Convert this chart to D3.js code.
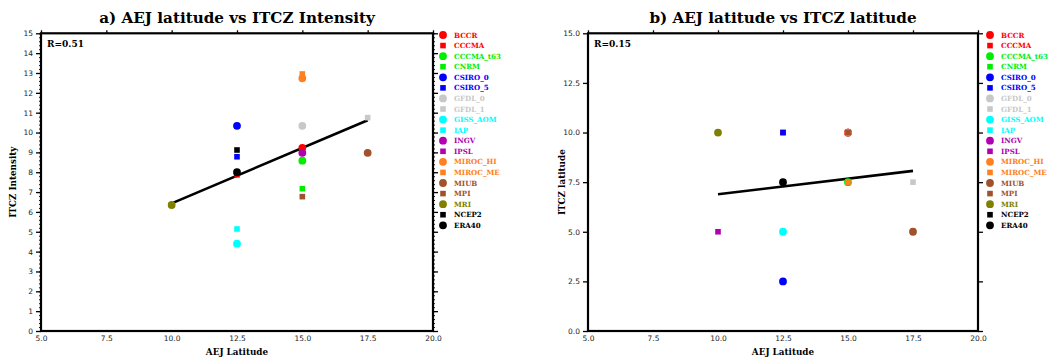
<!DOCTYPE html>
<html>
<head>
<meta charset="utf-8">
<script src="https://cdn.jsdelivr.net/npm/d3@7"></script>
<style>
  html, body { margin: 0; padding: 0; background: #fff; }
  svg { display: block; }
</style>
</head>
<body>
<svg id="chart" width="1053" height="358"></svg>
<script>
// ---------------- data ----------------
const models = ["BCCR","CCCMA","CCCMA_t63","CNRM","CSIRO_0","CSIRO_5","GFDL_0","GFDL_1","GISS_AOM","IAP",
                "INGV","IPSL","MIROC_HI","MIROC_ME","MIUB","MPI","MRI","NCEP2","ERA40"];
const markers = ["circle","square","circle","square","circle","square","circle","square","circle","square",
                 "circle","square","circle","square","circle","square","circle","square","circle"];
const colors = ["#ff0000","#ff0000","#00ee00","#00ee00","#0000ff","#0000ff","#c8c8c8","#c8c8c8","#00ffff","#00ffff",
                "#b000b0","#b000b0","#ff8020","#ff8020","#a0522d","#a0522d","#808000","#000000","#000000"];
const aejLat   = [15, 12.5, 15, 15, 12.5, 12.5, 15, 17.5, 12.5, 12.5, 15, 10, 15, 15, 17.5, 15, 10, 12.5, 12.5];
const itczInt  = [9.23, 7.87, 8.58, 7.17, 10.34, 8.78, 10.34, 10.75, 4.40, 5.14, 8.98, 6.35, 12.73, 12.95, 8.98, 6.77, 6.35, 9.12, 8.0];
const itczLat  = [10, 10, 7.5, 7.5, 2.5, 10, 10, 7.5, 5, 5, 10, 5, 10, 7.5, 5, 10, 10, 7.5, 7.5];
const fitX     = [10, 17.5];
const fitIntY  = [6.43, 10.62];
const fitLatY  = [6.89, 8.07];
const rValues  = ["R=0.51", "R=0.15"];
const titles   = ["a) AEJ latitude vs ITCZ Intensity", "b) AEJ latitude vs ITCZ latitude"];
const yLabels  = ["ITCZ Intensity", "ITCZ latitude"];
const xLabel   = "AEJ Latitude";
const xTicks   = [5, 7.5, 10, 12.5, 15, 17.5, 20];
const yTicksA  = [0,1,2,3,4,5,6,7,8,9,10,11,12,13,14,15];
const yTicksB  = [0, 2.5, 5, 7.5, 10, 12.5, 15];

// ---------------- drawing ----------------
const svg = d3.select("#chart");
const serif = "'DejaVu Serif', serif";
const sans = "'DejaVu Sans', sans-serif";

const panels = [
  {x0: 41, x1: 433, yVals: itczInt, fitY: fitIntY, yTicks: yTicksA, yFmt: d3.format("d"), minor: true,
   legX: 443, title: titles[0], ylab: yLabels[0], r: rValues[0], ylabX: 13},
  {x0: 588, x1: 978, yVals: itczLat, fitY: fitLatY, yTicks: yTicksB, yFmt: d3.format(".1f"), minor: false,
   legX: 990, title: titles[1], ylab: yLabels[1], r: rValues[1], ylabX: 562}
];
const yTop = 33.3, yBot = 331;

panels.forEach(p => {
  const g = svg.append("g");
  const x = d3.scaleLinear().domain([5, 20]).range([p.x0, p.x1]);
  const y = d3.scaleLinear().domain([0, 15]).range([yBot, yTop]);

  // title
  g.append("text").attr("x", (p.x0 + p.x1) / 2).attr("y", 23)
    .attr("text-anchor", "middle").attr("font-family", serif).attr("font-weight", "bold")
    .attr("font-size", 15.2).text(p.title);

  // axes
  const left = d3.axisLeft(y).tickValues(p.yTicks).tickFormat(p.yFmt).tickSize(5).tickPadding(3);
  const right = d3.axisRight(y).tickValues(p.yTicks).tickFormat("").tickSize(5);
  const bottom = d3.axisBottom(x).tickValues(xTicks).tickFormat(d3.format(".1f")).tickSize(0).tickPadding(5);
  const top = d3.axisTop(x).tickValues(xTicks).tickFormat("").tickSize(3);

  const styleAxis = sel => {
    sel.select(".domain").remove();
    sel.selectAll(".tick line").attr("stroke", "#000").attr("stroke-width", 1.3);
    sel.selectAll("text").attr("font-family", sans).attr("font-size", 7.5).attr("fill", "#222");
  };
  g.append("g").attr("transform", `translate(${p.x0},0)`).call(left).call(styleAxis);
  g.append("g").attr("transform", `translate(${p.x1},0)`).call(right).call(styleAxis);
  g.append("g").attr("transform", `translate(0,${yBot})`).call(bottom).call(styleAxis);
  g.append("g").attr("transform", `translate(0,${yTop})`).call(top).call(styleAxis);

  if (p.minor) {
    const minorVals = d3.range(0, 15.001, 0.2);
    const mL = d3.axisLeft(y).tickValues(minorVals).tickFormat("").tickSize(2);
    const mR = d3.axisRight(y).tickValues(minorVals).tickFormat("").tickSize(2);
    g.append("g").attr("transform", `translate(${p.x0},0)`).call(mL).call(styleAxis)
      .selectAll(".tick line").attr("stroke-width", 0.9);
    g.append("g").attr("transform", `translate(${p.x1},0)`).call(mR).call(styleAxis)
      .selectAll(".tick line").attr("stroke-width", 0.9);
  }

  // frame
  g.append("rect").attr("x", p.x0).attr("y", yTop).attr("width", p.x1 - p.x0).attr("height", yBot - yTop)
    .attr("fill", "none").attr("stroke", "#000").attr("stroke-width", 2.2);

  // axis labels
  g.append("text").attr("x", (p.x0 + p.x1) / 2).attr("y", 354.5)
    .attr("text-anchor", "middle").attr("font-family", serif).attr("font-weight", "bold")
    .attr("font-size", 8.8).text(xLabel);
  g.append("text").attr("transform", `translate(${p.ylabX + 3},${(yTop + yBot) / 2}) rotate(-90)`)
    .attr("text-anchor", "middle").attr("font-family", serif).attr("font-weight", "bold")
    .attr("font-size", 8.8).text(p.ylab);

  // R value
  g.append("text").attr("x", p.x0 + 6).attr("y", yTop + 14)
    .attr("font-family", serif).attr("font-weight", "bold").attr("font-size", 9).text(p.r);

  // regression line
  const line = d3.line().x(d => x(d[0])).y(d => y(d[1]));
  g.append("path").datum(fitX.map((v, i) => [v, p.fitY[i]]))
    .attr("d", line).attr("stroke", "#000").attr("stroke-width", 2.6).attr("fill", "none");

  // points
  const sym = d3.symbol();
  const pts = models.map((m, i) => ({m, i, x: aejLat[i], y: p.yVals[i]}));
  g.selectAll(".pt").data(pts).enter().append("path")
    .attr("transform", d => `translate(${x(d.x)},${y(d.y)})`)
    .attr("d", d => markers[d.i] === "circle"
      ? sym.type(d3.symbolCircle).size(Math.PI * 3.9 * 3.9)()
      : sym.type(d3.symbolSquare).size(5.6 * 5.6)())
    .attr("fill", d => colors[d.i]);

  // legend
  const ly = d3.scalePoint().domain(models).range([35, 225.3]);
  const leg = g.selectAll(".leg").data(models).enter().append("g")
    .attr("transform", d => `translate(${p.legX},${ly(d)})`);
  leg.append("path")
    .attr("d", (d, i) => markers[i] === "circle"
      ? sym.type(d3.symbolCircle).size(Math.PI * 3.9 * 3.9)()
      : sym.type(d3.symbolSquare).size(5.6 * 5.6)())
    .attr("fill", (d, i) => colors[i]);
  leg.append("text").attr("x", 11).attr("dy", "0.35em")
    .attr("font-family", serif).attr("font-weight", "bold").attr("font-size", 7.1)
    .attr("fill", (d, i) => colors[i]).text(d => d);
});
</script>
</body>
</html>
